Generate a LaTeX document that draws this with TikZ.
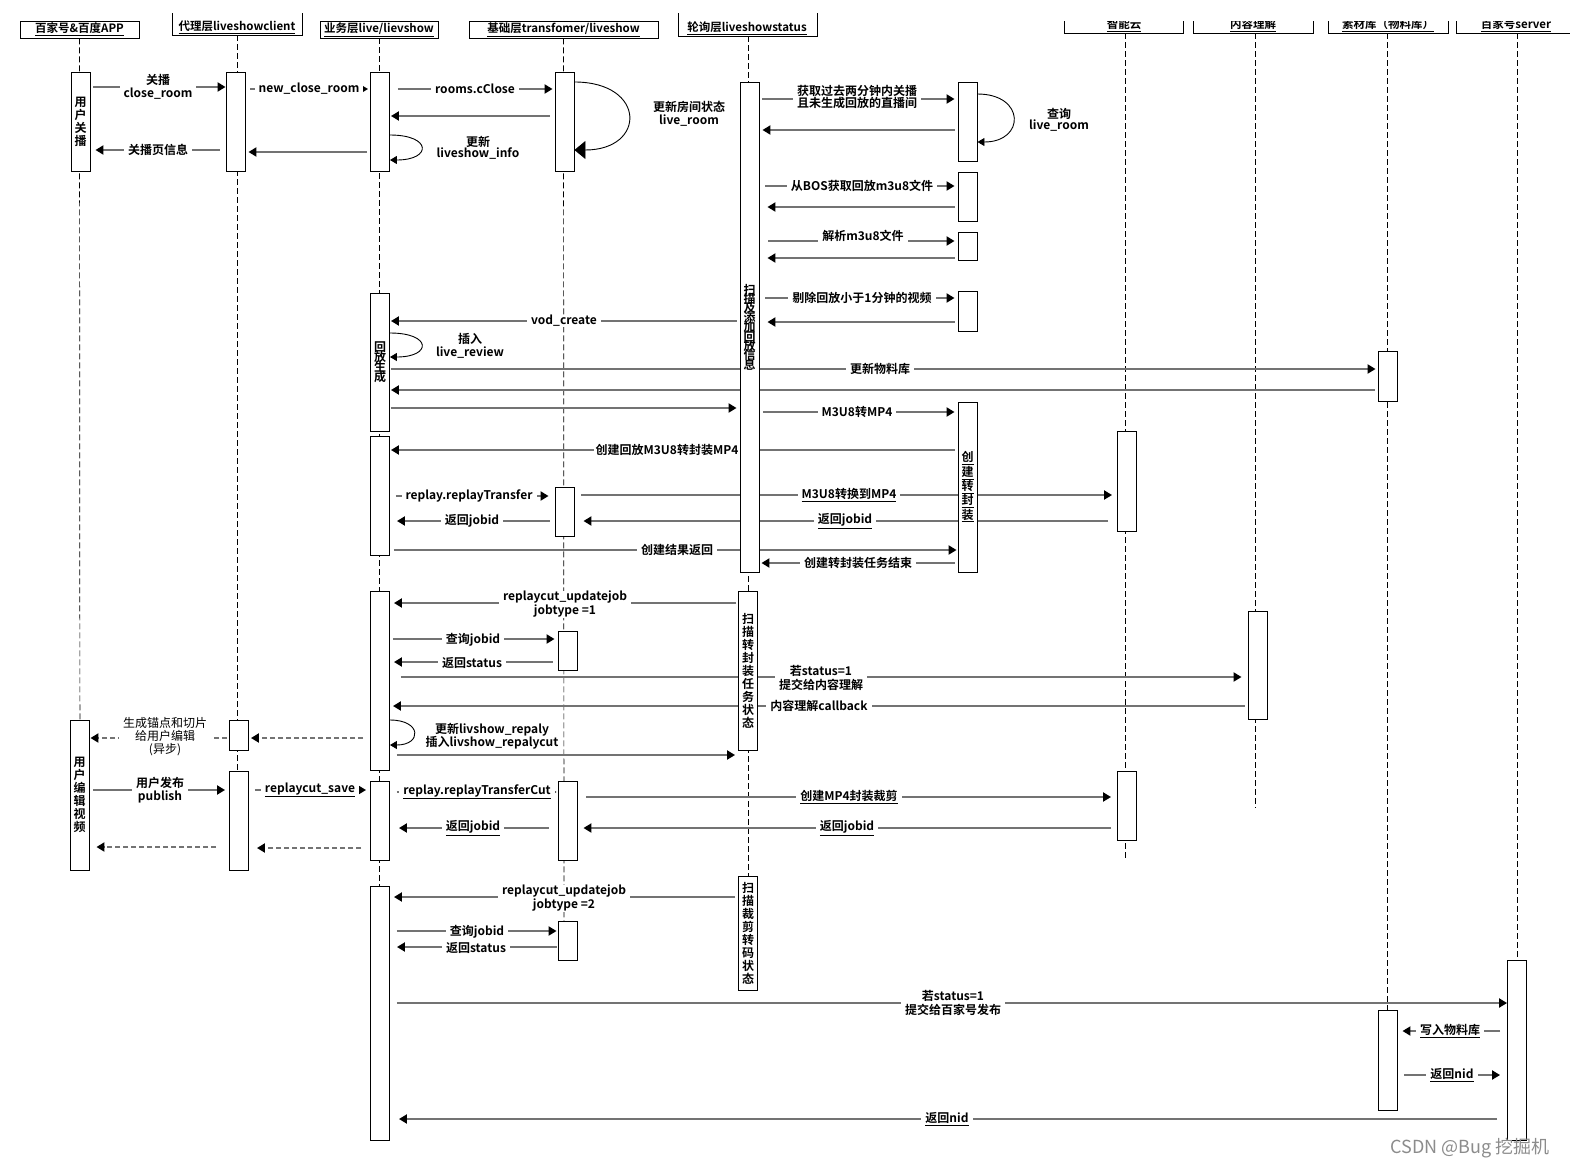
\documentclass[tikz,border=0pt]{standalone}
\usepackage{fontspec}
\setmainfont{Noto Sans CJK SC}[BoldFont={Noto Sans CJK SC Bold}]
\usetikzlibrary{arrows.meta}
\definecolor{lg}{HTML}{737373}
\pgfdeclarelayer{bg}
\pgfsetlayers{bg,main}
\newcommand\tightfont[1]{\bfseries\fontsize{12}{#1}\selectfont\lineskiplimit=-30pt\lineskip=0pt}
\tikzset{
 msg/.style={draw=lg, line width=2.6pt, -{Triangle[length=8pt,width=9pt,color=black]}},
 dmsg/.style={msg, dash pattern=on 5pt off 3pt},
 lbl/.style={fill=white, inner xsep=4pt, inner ysep=0.5pt, align=center, font=\bfseries\fontsize{12}{13.5}\selectfont},
 nlbl/.style={lbl, font=\fontsize{12}{13}\selectfont},
 act/.style={draw=black, fill=white, line width=0.9pt, minimum width=19pt, inner sep=0pt, align=center, font=\bfseries\fontsize{12}{13}\selectfont},
 life/.style={draw=black, line width=0.7pt, dash pattern=on 6pt off 3pt},
 selfc/.style={draw=black, line width=0.9pt, -{Triangle[length=7pt,width=8pt]}},
 hdr/.style={font=\bfseries\fontsize{11.5}{13}\selectfont, inner sep=0pt},
 hbox/.style={hdr, draw=black, line width=0.9pt},
}
\begin{document}
\begin{tikzpicture}[x=1pt,y=-1pt]
\useasboundingbox (0,0) rectangle (1570,1170);
\begin{pgfonlayer}{bg}
\fill[white] (0,0) rectangle (1570,1170);
\end{pgfonlayer}

% ---------- headers ----------
\node[hbox, minimum width=119pt, minimum height=17pt] (H1) at (79.5,29.5) {\underline{百家号\&百度APP}};
\node[hdr] (H2) at (237,27) {\underline{代理层liveshowclient}};
\draw[line width=0.9pt] (172,13) -- (172,35) -- (302,35) -- (302,13);
\node[hbox, minimum width=118pt, minimum height=17pt] (H3) at (379,29.5) {\underline{业务层live/lievshow}};
\node[hbox, minimum width=189pt, minimum height=17pt] (H4) at (563.5,29.5) {\underline{基础层transfomer/liveshow}};
\node[hdr] (H5) at (747,28) {\underline{轮询层liveshowstatus}};
\draw[line width=0.9pt] (678,13) -- (678,36) -- (817,36) -- (817,13);
\begin{scope}
\clip (1050,21.5) rectangle (1570,40);
\node[hdr] (H6) at (1124,25) {\underline{智能云}};
\node[hdr] (H7) at (1253,25) {\underline{内容理解}};
\node[hdr] (H8) at (1388,25) {\underline{素材库（物料库）}};
\node[hdr] (H9) at (1516,25) {\underline{百家号server}};
\draw[line width=0.9pt] (1064,10) -- (1064,33) -- (1183,33) -- (1183,10);
\draw[line width=0.9pt] (1193,10) -- (1193,33) -- (1313,33) -- (1313,10);
\draw[line width=0.9pt] (1328,10) -- (1328,33) -- (1448,33) -- (1448,10);
\draw[line width=0.9pt] (1456,10) -- (1456,33) -- (1575,33);
\end{scope}

% ---------- activation boxes ----------
\node[act, minimum height=99pt] (a1) at (80.5,121.5) {用\\户\\关\\播};
\node[act, minimum height=150pt] (a2) at (79.5,795) {用\\户\\编\\辑\\视\\频};
\node[act, minimum height=99pt] (b1) at (235.5,121.5) {};
\node[act, minimum height=30pt] (b2) at (239,735) {};
\node[act, minimum height=99pt] (b3) at (239,820.5) {};
\node[act, minimum height=99pt] (c1) at (380,121.5) {};
\node[act, minimum height=138pt, font=\tightfont{10}] (c2) at (380,362) {回\\放\\生\\成};
\node[act, minimum height=119pt] (c3) at (380,495.5) {};
\node[act, minimum height=179pt] (c4) at (380,680.5) {};
\node[act, minimum height=79pt] (c5) at (380,820.5) {};
\node[act, minimum height=254pt] (c6) at (380,1013) {};
\node[act, minimum height=99pt] (d1) at (564.5,121.5) {};
\node[act, minimum height=49pt] (d2) at (564.5,511.5) {};
\node[act, minimum height=39pt] (d3) at (567.5,650.5) {};
\node[act, minimum height=79pt] (d4) at (567.5,820.5) {};
\node[act, minimum height=39pt] (d5) at (567.5,940.5) {};
\node[act, minimum height=490pt, font=\tightfont{9.4}] (e1) at (749.5,327) {扫\\描\\及\\添\\加\\回\\放\\信\\息};
\node[act, minimum height=159pt] (e2) at (748,670.5) {扫\\描\\转\\封\\装\\任\\务\\状\\态};
\node[act, minimum height=114pt] (e3) at (748,933) {扫\\描\\裁\\剪\\转\\码\\状\\态};
\node[act, minimum height=79pt] (f1) at (967.5,121.5) {};
\node[act, minimum height=49pt] (f2) at (967.5,196.5) {};
\node[act, minimum height=28pt] (f3) at (967.5,246) {};
\node[act, minimum height=40pt] (f4) at (967.5,311) {};
\node[act, minimum height=170pt] (f5) at (967.5,487) {\underline{创}\\\underline{建}\\\underline{转}\\\underline{封}\\\underline{装}};
\node[act, minimum height=100pt] (g1) at (1127,481) {};
\node[act, minimum height=69pt] (g2) at (1127,805.5) {};
\node[act, minimum height=108pt] (h1) at (1257.5,665) {};
\node[act, minimum height=50pt] (i1) at (1387.5,376) {};
\node[act, minimum height=100pt] (i2) at (1387.5,1060) {};
\node[act, minimum height=180pt] (j1) at (1517,1050) {};

\begin{pgfonlayer}{bg}
% ---------- lifelines ----------
\draw[life] (H1.south) -- (80,870);
\draw[life] (237,35) -- (237,870);
\draw[life] (H3.south) -- (379,1140);
\draw[life] (H4.south) -- (564,960);
\draw[life] (748,36) -- (748,990);
\draw[life] (1125,33) -- (1125,858);
\draw[life] (1255,33) -- (1255,808);
\draw[life] (1387,33) -- (1387,1010);
\draw[life] (1517,33) -- (1517,960);

% ---------- messages ----------
\draw[msg, shorten <=3pt] (a1.east|-0,87) -- (b1.west|-0,87);
\draw[msg, shorten <=5pt, shorten >=2pt] (b1.east|-0,89) -- (c1.west|-0,89);
\draw[msg, shorten <=8pt, shorten >=2pt] (c1.east|-0,89) -- (d1.west|-0,89);
\draw[msg, shorten <=5pt, shorten >=1pt] (d1.west|-0,116) -- (c1.east|-0,116);
\draw[msg, shorten <=3pt, shorten >=3pt] (c1.west|-0,152) -- (b1.east|-0,152);
\draw[msg, shorten <=6pt, shorten >=5pt] (b1.west|-0,150) -- (a1.east|-0,150);

\draw[msg, shorten <=3pt, shorten >=3pt] (e1.east|-0,99) -- (f1.west|-0,99);
\draw[msg, shorten <=3pt, shorten >=3pt] (f1.west|-0,130) -- (e1.east|-0,130);
\draw[msg, shorten <=6pt, shorten >=3pt] (e1.east|-0,186) -- (f2.west|-0,186);
\draw[msg, shorten <=3pt, shorten >=8pt] (f2.west|-0,207) -- (e1.east|-0,207);
\draw[msg, shorten <=9pt, shorten >=3pt] (e1.east|-0,241) -- (f3.west|-0,241);
\draw[msg, shorten <=3pt, shorten >=8pt] (f3.west|-0,258) -- (e1.east|-0,258);
\draw[msg, shorten <=6pt, shorten >=3pt] (e1.east|-0,298) -- (f4.west|-0,298);
\draw[msg, shorten <=3pt, shorten >=8pt] (f4.west|-0,322) -- (e1.east|-0,322);

\draw[msg, shorten <=3pt, shorten >=1pt] (e1.west|-0,321) -- (c2.east|-0,321);
\draw[msg, shorten <=1pt, shorten >=2pt] (c2.east|-0,369) -- (i1.west|-0,369);
\draw[msg, shorten <=3pt, shorten >=1pt] (i1.west|-0,390) -- (c2.east|-0,390);
\draw[msg, shorten <=1pt, shorten >=3pt] (c2.east|-0,408) -- (e1.west|-0,408);
\draw[msg, shorten <=4pt, shorten >=3pt] (e1.east|-0,412) -- (f5.west|-0,412);
\draw[msg, shorten <=3pt, shorten >=1pt] (f5.west|-0,450) -- (c3.east|-0,450);
\draw[msg, shorten <=6pt, shorten >=6pt] (c3.east|-0,496) -- (d2.west|-0,496);
\draw[msg, shorten <=7pt, shorten >=5pt] (d2.east|-0,495) -- (g1.west|-0,495);
\draw[msg, shorten <=9pt, shorten >=9pt] (g1.west|-0,521) -- (d2.east|-0,521);
\draw[msg, shorten <=5pt, shorten >=7pt] (d2.west|-0,521) -- (c3.east|-0,521);
\draw[msg, shorten <=4pt, shorten >=1pt] (c3.east|-0,550) -- (f5.west|-0,550);
\draw[msg, shorten <=3pt, shorten >=2pt] (f5.west|-0,563) -- (e1.east|-0,563);

\draw[msg, shorten <=2pt, shorten >=4pt] (e2.west|-0,603) -- (c4.east|-0,603);
\draw[msg, shorten <=3pt, shorten >=3pt] (c4.east|-0,639) -- (d3.west|-0,639);
\draw[msg, shorten <=5pt, shorten >=4pt] (d3.west|-0,662) -- (c4.east|-0,662);
\draw[msg, shorten <=11pt, shorten >=6pt] (c4.east|-0,677) -- (h1.west|-0,677);
\draw[msg, shorten <=3pt, shorten >=3pt] (h1.west|-0,706) -- (c4.east|-0,706);
\draw[dmsg, shorten <=7pt, shorten >=2pt] (c4.west|-0,738) -- (b2.east|-0,738);
\draw[dmsg, shorten <=2pt, shorten >=1pt] (b2.west|-0,738) -- (a2.east|-0,738);
\draw[msg, shorten <=7pt, shorten >=3pt] (c4.east|-0,755) -- (e2.west|-0,755);

\draw[msg, shorten <=4pt, shorten >=4pt] (a2.east|-0,790) -- (b3.west|-0,790);
\draw[msg, shorten <=6pt, shorten >=4pt] (b3.east|-0,790) -- (c5.west|-0,790);
\draw[msg, shorten <=7pt, shorten >=1pt] (c5.east|-0,792) -- (d4.west|-0,792);
\draw[msg, shorten <=9pt, shorten >=6pt] (d4.east|-0,797) -- (g2.west|-0,797);
\draw[msg, shorten <=6pt, shorten >=6pt] (g2.west|-0,828) -- (d4.east|-0,828);
\draw[msg, shorten <=9pt, shorten >=9pt] (d4.west|-0,828) -- (c5.east|-0,828);
\draw[dmsg, shorten <=13pt, shorten >=7pt] (b3.west|-0,847) -- (a2.east|-0,847);
\draw[dmsg, shorten <=9pt, shorten >=8pt] (c5.west|-0,848) -- (b3.east|-0,848);

\draw[msg, shorten <=3pt, shorten >=4pt] (e3.west|-0,897) -- (c6.east|-0,897);
\draw[msg, shorten <=7pt, shorten >=1pt] (c6.east|-0,931) -- (d5.west|-0,931);
\draw[msg, shorten <=1pt, shorten >=7pt] (d5.west|-0,947) -- (c6.east|-0,947);
\draw[msg, shorten <=7pt, shorten >=0pt] (c6.east|-0,1003) -- (j1.west|-0,1003);
\draw[msg, shorten <=7pt, shorten >=5pt] (j1.west|-0,1031) -- (i2.east|-0,1031);
\draw[msg, shorten <=7pt, shorten >=7pt] (i2.east|-0,1075) -- (j1.west|-0,1075);
\draw[msg, shorten <=10pt, shorten >=9pt] (j1.west|-0,1119) -- (c6.east|-0,1119);
\end{pgfonlayer}

% ---------- self calls ----------
\draw[selfc, -{Triangle[length=11pt,width=18pt]}] (d1.east|-0,82) .. controls +(72,0) and +(72,0) .. (d1.east|-0,150);
\draw[selfc] (c1.east|-0,135) .. controls +(42,0) and +(42,0) .. (c1.east|-0,160);
\draw[selfc] (f1.east|-0,94) .. controls +(48,0) and +(48,0) .. (f1.east|-0,142);
\draw[selfc] (c2.east|-0,333) .. controls +(42,0) and +(42,0) .. (c2.east|-0,357);
\draw[selfc] (c4.east|-0,720) .. controls +(32,0) and +(32,0) .. (c4.east|-0,745);

% ---------- labels ----------
\node[lbl] (t1) at (158,87) {关播\\close\_room};
\node[lbl] (t2) at (309,89) {new\_close\_room};
\node[lbl] (t3) at (475,89) {rooms.cClose};
\node[lbl] (t4) at (158,150) {关播页信息};
\node[lbl, fill=none] (t5) at (689,114) {更新房间状态\\live\_room};
\node[lbl, fill=none, font=\tightfont{11}] (t6) at (478,148) {更新\\liveshow\_info};
\node[lbl, font=\tightfont{11.5}] (t7) at (857,97) {获取过去两分钟内关播\\且未生成回放的直播间};
\node[lbl, fill=none, font=\tightfont{10.5}] (t8) at (1059,120) {查询\\live\_room};
\node[lbl] (t9) at (862,186) {从BOS获取回放m3u8文件};
\node[lbl, inner ysep=3pt] (t10) at (863,236) {解析m3u8文件};
\node[lbl] (t11) at (862,298) {剔除回放小于1分钟的视频};
\node[lbl] (t12) at (564,321) {vod\_create};
\node[lbl, fill=none] (t13) at (470,346) {插入\\live\_review};
\node[lbl] (t14) at (880,369) {更新物料库};
\node[lbl] (t15) at (857,412) {M3U8转MP4};
\node[lbl, inner xsep=2pt] (t16) at (667,450) {创建回放M3U8转封装MP4};
\node[lbl] (t17) at (469,496) {replay.replayTransfer};
\node[lbl] (t18) at (849,495) {\underline{M3U8转换到MP4}};
\node[lbl] (t19) at (845,521) {\underline{返回jobid}};
\node[lbl] (t20) at (472,521) {返回jobid};
\node[lbl] (t21) at (677,550) {创建结果返回};
\node[lbl] (t22) at (858,563) {创建转封装任务结束};
\node[lbl] (t23) at (565,604) {replaycut\_updatejob\\jobtype =1};
\node[lbl] (t24) at (473,640) {查询jobid};
\node[lbl] (t25) at (472,663) {返回status};
\node[lbl] (t26) at (821,678) {若status=1\\提交给内容理解};
\node[lbl] (t27) at (819,706) {内容理解callback};
\node[lbl, fill=none] (t28) at (492,736) {更新livshow\_repaly\\插入livshow\_repalycut};
\node[nlbl] (t29) at (165,737) {生成锚点和切片\\给用户编辑\\(异步)};
\node[lbl] (t30) at (160,790) {用户发布\\publish};
\node[lbl] (t31) at (310,790) {\underline{replaycut\_save}};
\node[lbl] (t32) at (477,792) {\underline{replay.replayTransferCut}};
\node[lbl] (t33) at (849,797) {\underline{创建MP4封装裁剪}};
\node[lbl] (t34) at (847,828) {\underline{返回jobid}};
\node[lbl] (t35) at (473,828) {\underline{返回jobid}};
\node[lbl] (t36) at (564,898) {replaycut\_updatejob\\jobtype =2};
\node[lbl] (t37) at (477,932) {查询jobid};
\node[lbl] (t38) at (476,948) {返回status};
\node[lbl] (t39) at (953,1003) {若status=1\\提交给百家号发布};
\node[lbl] (t40) at (1450,1031) {\underline{写入物料库}};
\node[lbl] (t41) at (1452,1075) {\underline{返回nid}};
\node[lbl] (t42) at (947,1119) {\underline{返回nid}};

\node[text=black!45, font=\fontsize{18}{20}\selectfont, inner sep=0pt] (wm) at (1470,1148) {CSDN @Bug 挖掘机};
\end{tikzpicture}
\end{document}
